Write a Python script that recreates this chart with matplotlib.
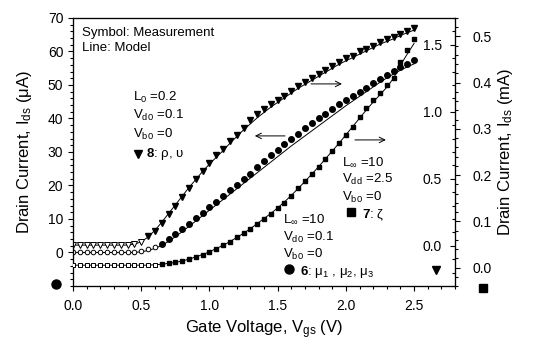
import matplotlib
matplotlib.use('Agg')
import matplotlib.pyplot as plt
from matplotlib.ticker import MultipleLocator, FormatStrFormatter

plt.rcParams['font.family'] = 'Liberation Sans'
plt.rcParams['mathtext.fontset'] = 'custom'
plt.rcParams['mathtext.rm'] = 'Liberation Sans'
plt.rcParams['mathtext.bf'] = 'Liberation Sans:bold'
plt.rcParams['mathtext.it'] = 'Liberation Sans:italic'
plt.rcParams['mathtext.default'] = 'regular'

# gate voltage (V)
vgs = [0.00, 0.05, 0.10, 0.15, 0.20, 0.25, 0.30, 0.35, 0.40, 0.45,
       0.50, 0.55, 0.60, 0.65, 0.70, 0.75, 0.80, 0.85, 0.90, 0.95,
       1.00, 1.05, 1.10, 1.15, 1.20, 1.25, 1.30, 1.35, 1.40, 1.45,
       1.50, 1.55, 1.60, 1.65, 1.70, 1.75, 1.80, 1.85, 1.90, 1.95,
       2.00, 2.05, 2.10, 2.15, 2.20, 2.25, 2.30, 2.35, 2.40, 2.45, 2.50]

# triangles: L0=0.2 (mA, inner right axis)
tri_meas = [0.005, 0.005, 0.005, 0.005, 0.005, 0.005, 0.005, 0.005, 0.008, 0.015,
            0.03, 0.07, 0.11, 0.17, 0.235, 0.30, 0.365, 0.43, 0.50, 0.56,
            0.62, 0.675, 0.72, 0.78, 0.83, 0.88, 0.935, 0.98, 1.02, 1.06,
            1.09, 1.12, 1.155, 1.19, 1.22, 1.25, 1.28, 1.31, 1.34, 1.37,
            1.40, 1.42, 1.45, 1.47, 1.49, 1.52, 1.54, 1.56, 1.58, 1.60, 1.625]
tri_model = [0.005, 0.005, 0.005, 0.005, 0.005, 0.005, 0.005, 0.005, 0.005, 0.012,
             0.03, 0.065, 0.115, 0.175, 0.24, 0.305, 0.37, 0.435, 0.495, 0.555,
             0.61, 0.66, 0.71, 0.765, 0.815, 0.865, 0.91, 0.955, 0.995, 1.035,
             1.07, 1.105, 1.14, 1.175, 1.205, 1.235, 1.265, 1.295, 1.325, 1.355,
             1.38, 1.405, 1.43, 1.455, 1.48, 1.505, 1.525, 1.545, 1.57, 1.59, 1.61]

# circles: L_inf=10, Vd0=0.1 (uA, left axis)
circ_meas = [0.0, 0.0, 0.0, 0.0, 0.0, 0.0, 0.0, 0.0, 0.0, 0.0,
             0.3, 1.0, 1.6, 2.6, 3.9, 5.4, 6.9, 8.5, 10.2, 11.9,
             13.5, 15.2, 17.0, 18.6, 20.2, 21.9, 23.5, 25.6, 27.4, 29.0,
             30.6, 32.4, 34.0, 35.5, 37.1, 38.6, 40.0, 41.4, 42.8, 44.2,
             45.5, 46.6, 47.8, 49.2, 50.6, 51.9, 53.1, 54.3, 55.3, 56.3, 57.5]
circ_model = [0.0, 0.0, 0.0, 0.0, 0.0, 0.0, 0.0, 0.0, 0.0, 0.0,
              0.2, 0.6, 1.2, 2.1, 3.3, 4.7, 6.2, 7.8, 9.4, 11.0,
              12.6, 14.2, 15.8, 17.4, 19.0, 20.6, 22.2, 23.8, 25.4, 27.0,
              28.6, 30.2, 31.8, 33.3, 34.8, 36.3, 37.8, 39.3, 40.8, 42.3,
              43.8, 45.2, 46.6, 48.0, 49.4, 50.8, 52.1, 53.3, 54.4, 55.4, 56.3]

# squares: L_inf=10, Vdd=2.5 (mA, outer right axis)
sq_meas = [0.005, 0.005, 0.005, 0.005, 0.005, 0.005, 0.005, 0.005, 0.005, 0.005,
           0.005, 0.005, 0.006, 0.007, 0.009, 0.011, 0.014, 0.018, 0.022, 0.028,
           0.034, 0.041, 0.048, 0.056, 0.065, 0.074, 0.084, 0.095, 0.105, 0.116,
           0.128, 0.140, 0.155, 0.171, 0.187, 0.202, 0.218, 0.235, 0.252, 0.269,
           0.286, 0.305, 0.325, 0.345, 0.362, 0.378, 0.394, 0.41, 0.445, 0.47, 0.494]
sq_model = [0.005, 0.005, 0.005, 0.005, 0.005, 0.005, 0.005, 0.005, 0.005, 0.005,
            0.005, 0.005, 0.006, 0.007, 0.009, 0.011, 0.014, 0.018, 0.023, 0.028,
            0.034, 0.041, 0.048, 0.056, 0.065, 0.074, 0.084, 0.095, 0.106, 0.117,
            0.129, 0.142, 0.156, 0.171, 0.186, 0.202, 0.218, 0.235, 0.252, 0.269,
            0.287, 0.305, 0.323, 0.341, 0.358, 0.374, 0.39, 0.41, 0.438, 0.462, 0.485]

# number of leading points drawn as open symbols
tri_open = 11
circ_open = 13
sq_open = 13

fig = plt.figure(figsize=(5.36, 3.5), dpi=100)
ax = fig.add_axes([0.1362, 0.1829, 0.7127, 0.7657])
ax_in = ax.twinx()
ax_out = ax.twinx()

lw = 0.8

def draw(a, y, model, n_open, marker, ms_open, ms_fill):
    a.plot(vgs, model, color='black', lw=0.7, zorder=2)
    a.plot(vgs[:n_open], y[:n_open], ls='none', marker=marker, ms=ms_open,
           mfc='white', mec='black', mew=0.7, zorder=3)
    a.plot(vgs[n_open:], y[n_open:], ls='none', marker=marker, ms=ms_fill,
           mfc='black', mec='black', zorder=3)

draw(ax, circ_meas, circ_model, circ_open, 'o', 3.3, 4.0)
draw(ax_in, tri_meas, tri_model, tri_open, 'v', 3.8, 4.3)
draw(ax_out, sq_meas, sq_model, sq_open, 's', 2.9, 3.3)

# left axis (uA)
ax.set_xlim(0, 2.8)
ax.set_ylim(-10, 70)
ax.set_yticks(range(0, 80, 10))
ax.yaxis.set_minor_locator(MultipleLocator(2))
ax.set_xticks([0, 0.5, 1.0, 1.5, 2.0, 2.5])
ax.xaxis.set_minor_locator(MultipleLocator(0.1))
ax.xaxis.set_major_formatter(FormatStrFormatter('%.1f'))
ax.tick_params(axis='both', which='major', direction='out', length=3.6, width=lw, labelsize=10)
ax.tick_params(axis='both', which='minor', direction='out', length=2.0, width=lw)
ax.tick_params(axis='y', pad=3.4)
ax.tick_params(axis='x', pad=5.8)
for s in ax.spines.values():
    s.set_linewidth(lw)

# inner right axis (mA), labels inside the frame
ax_in.set_ylim(-0.3, 1.7)
ax_in.set_yticks([0.0, 0.5, 1.0, 1.5])
ax_in.yaxis.set_minor_locator(MultipleLocator(0.1))
ax_in.yaxis.set_major_formatter(FormatStrFormatter('%.1f'))
ax_in.tick_params(axis='y', which='major', direction='in', length=3.6, width=lw,
                  labelsize=10, pad=-9.5)
ax_in.tick_params(axis='y', which='minor', direction='in', length=2.0, width=lw)
for lab in ax_in.get_yticklabels():
    lab.set_horizontalalignment('right')

# outer right axis (mA)
ax_out.set_ylim(-0.04, 0.54)
ax_out.set_yticks([0.0, 0.1, 0.2, 0.3, 0.4, 0.5])
ax_out.yaxis.set_minor_locator(MultipleLocator(0.02))
ax_out.yaxis.set_major_formatter(FormatStrFormatter('%.1f'))
ax_out.tick_params(axis='y', which='major', direction='out', length=3.6, width=lw,
                   labelsize=10, pad=9)
ax_out.tick_params(axis='y', which='minor', direction='out', length=2.0, width=lw)
for a in (ax_in, ax_out):
    for s in a.spines.values():
        s.set_linewidth(lw)

ax.set_xlabel('Gate Voltage, V$_{gs}$ (V)', fontsize=12, va='top')
ax.xaxis.set_label_coords(0.5, -0.122)
ax.set_ylabel(r'Drain Current, I$_{ds}$ ($\mu$A)', fontsize=12, va='center')
ax.yaxis.set_label_coords(-0.128, 0.5)
ax_out.set_ylabel('Drain Current, I$_{ds}$ (mA)', fontsize=12, va='center')
ax_out.yaxis.set_label_coords(1.131, 0.5)

tk = dict(transform=ax.transAxes, fontsize=9.5, va='baseline', ha='left')
ax.text(0.0227, 0.931, 'Symbol: Measurement', **tk)
ax.text(0.0227, 0.878, 'Line: Model', **tk)

ax.text(0.157, 0.690, 'L$_0$ =0.2', **tk)
ax.text(0.157, 0.623, 'V$_{d0}$ =0.1', **tk)
ax.text(0.157, 0.554, 'V$_{b0}$ =0', **tk)
ax.text(0.191, 0.483, r'$\mathbf{8}$: ρ, υ', **tk)

ax.text(0.703, 0.4496, r'L$_\infty$ =10', **tk)
ax.text(0.703, 0.384, 'V$_{dd}$ =2.5', **tk)
ax.text(0.703, 0.319, 'V$_{b0}$ =0', **tk)
ax.text(0.756, 0.254, r'$\mathbf{7}$: ζ', **tk)

ax.text(0.551, 0.2336, r'L$_\infty$ =10', **tk)
ax.text(0.551, 0.168, 'V$_{d0}$ =0.1', **tk)
ax.text(0.551, 0.1045, 'V$_{b0}$ =0', **tk)
ax.text(0.594, 0.041, r'$\mathbf{6}$: μ$_1$ , μ$_2$, μ$_3$', **tk)

mk = dict(transform=ax.transAxes, clip_on=False, ls='none', color='black', zorder=5)
ax.plot([0.169], [0.4925], marker='v', ms=6, **mk)
ax.plot([0.727], [0.277], marker='s', ms=5.5, **mk)
ax.plot([0.565], [0.062], marker='o', ms=6.5, **mk)
ax.plot([-0.0445], [0.0075], marker='o', ms=6.5, **mk)
ax.plot([0.950], [0.060], marker='v', ms=6, **mk)
ax.plot([1.073], [-0.0075], marker='s', ms=6, **mk)

ap = dict(arrowstyle='->', lw=0.7, color='black', shrinkA=0, shrinkB=0)
ax.annotate('', xy=(0.704, 0.754), xytext=(0.623, 0.754), xycoords='axes fraction', arrowprops=ap)
ax.annotate('', xy=(0.476, 0.560), xytext=(0.555, 0.560), xycoords='axes fraction', arrowprops=ap)
ax.annotate('', xy=(0.819, 0.545), xytext=(0.738, 0.545), xycoords='axes fraction', arrowprops=ap)

fig.savefig('out.png', dpi=100)
